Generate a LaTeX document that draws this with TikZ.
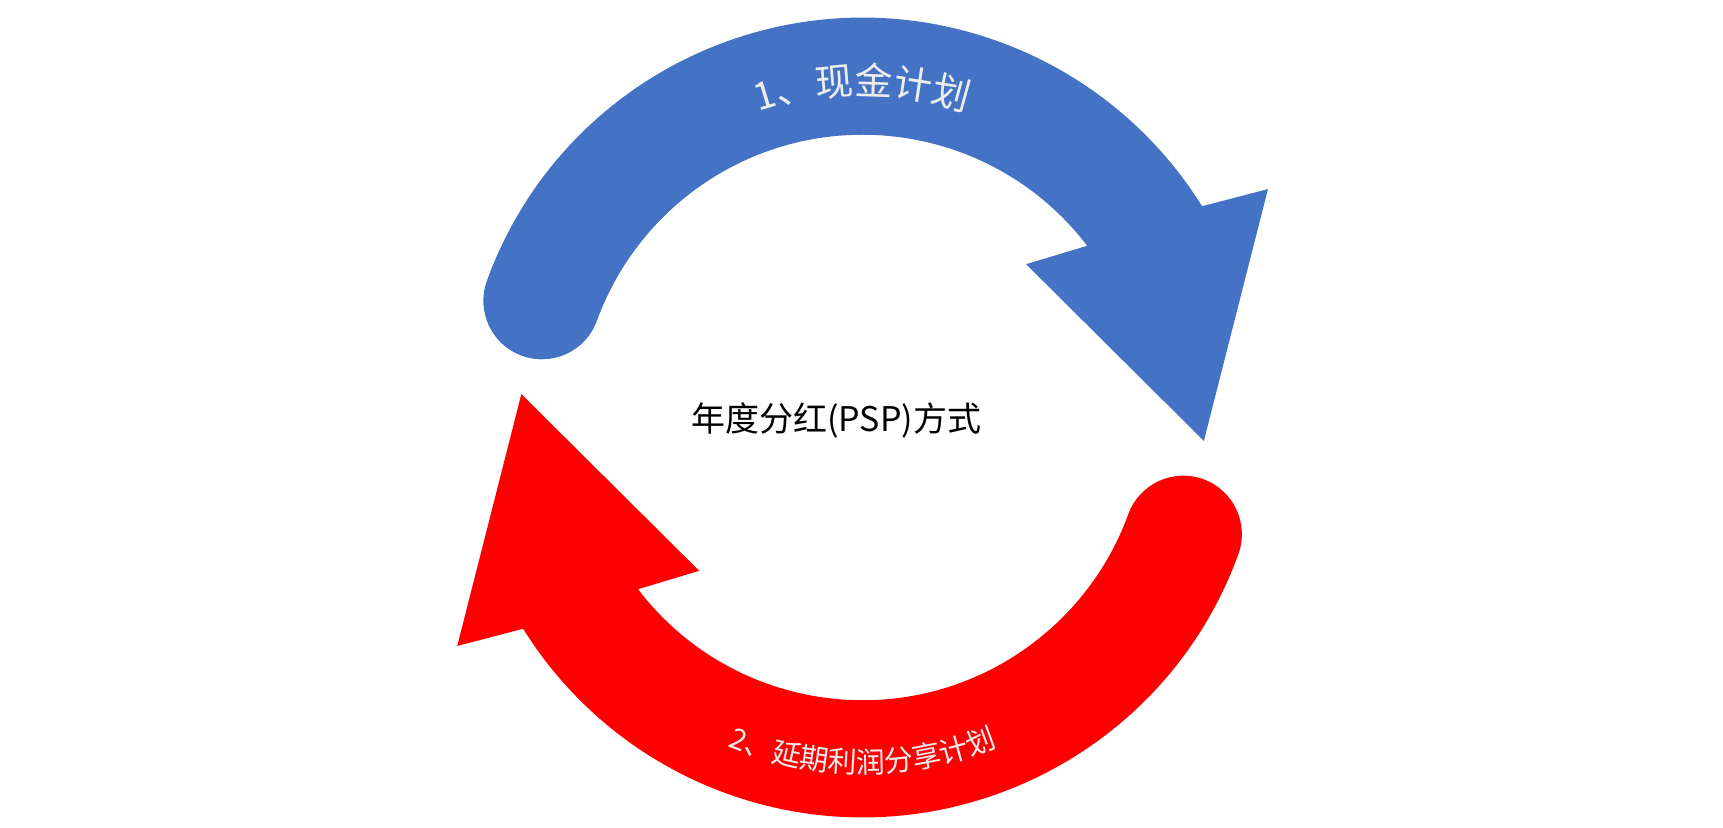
\documentclass[tikz,border=0pt]{standalone}
\usepackage{fontspec}
\newfontfamily\cjk{Noto Sans CJK SC}
\usetikzlibrary{decorations.text}
\definecolor{bluearr}{HTML}{4472C4}
\definecolor{redarr}{HTML}{FF0000}
\definecolor{txtw}{HTML}{EDEDED}
\tikzset{
  arrowshape/.pic={
    \fill[pic actions] (160:362) arc[start angle=160,end angle=31.9,radius=362]
      -- (367,206.8) -- (309,-21.2) -- (148,138.8) -- (37.4:256)
      arc[start angle=37.4,end angle=160,radius=256]
      arc[start angle=340,end angle=160,radius=53] -- cycle;
  }
}
\begin{document}
\begin{tikzpicture}[x=1.1045pt,y=1.1045pt]
\useasboundingbox (0,0) rectangle (1560,748.8);
\begin{scope}[shift={(781,370.8)}]
  \pic[fill=bluearr] {arrowshape};
  \pic[fill=redarr,rotate=180] {arrowshape};
  \path[decorate,decoration={text along path,text align=center,
     text={|\cjk\fontsize{38}{40}\selectfont\color{txtw}|1、现金计划}}]
     (160:292) arc[start angle=160,end angle=20,radius=292];
  \path[decorate,decoration={text along path,text align=center,
     text={|\cjk\fontsize{29}{31}\selectfont\color{txtw}|2、延期利润分享计划}}]
     (200:322) arc[start angle=200,end angle=340,radius=322];
  \node[font=\cjk\fontsize{34}{36}\selectfont] (lbl) at (-24,-3) {年度分红(PSP)方式};
\end{scope}
\end{tikzpicture}
\end{document}
